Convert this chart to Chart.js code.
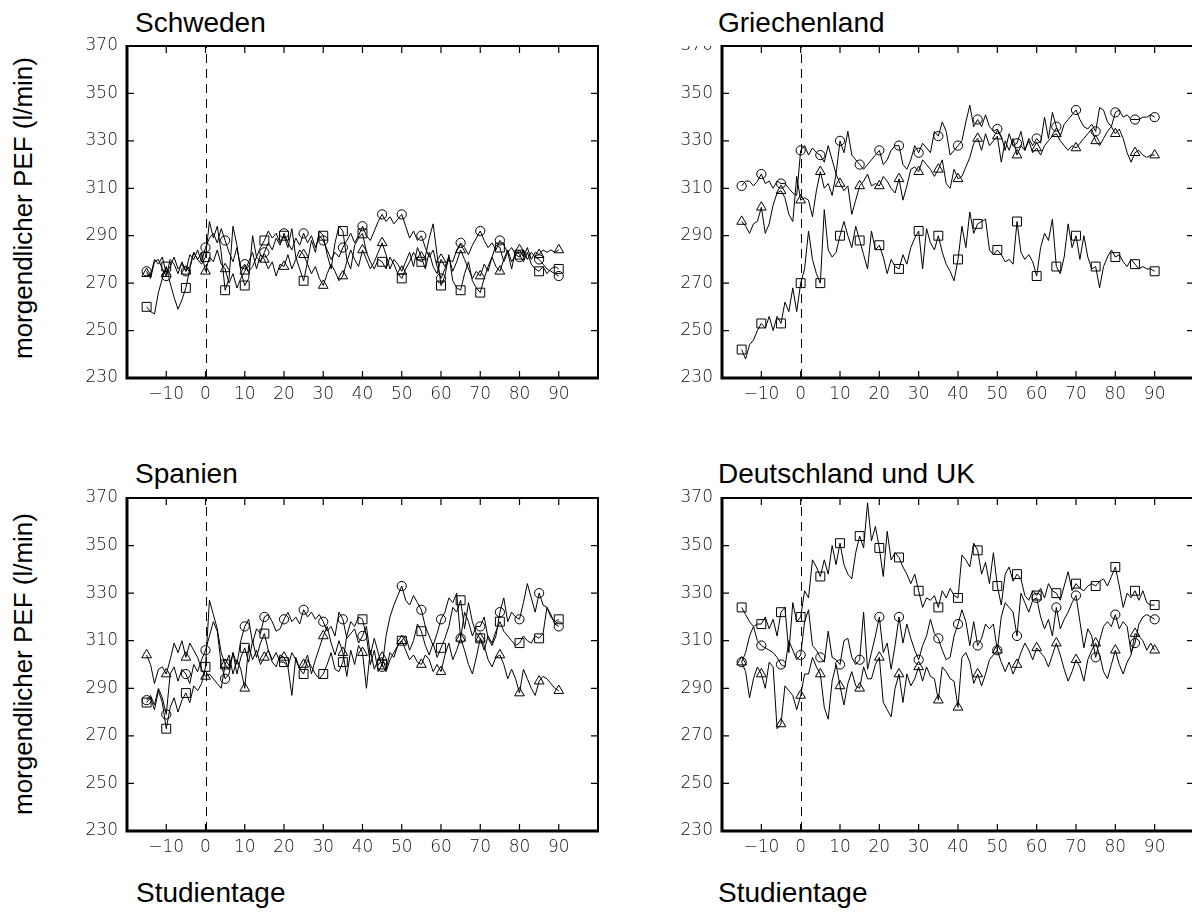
<!DOCTYPE html>
<html><head><meta charset="utf-8">
<script src="https://cdn.jsdelivr.net/npm/chart.js@4"></script>
<style>
html,body{margin:0;padding:0;background:#fff;}
body{width:1192px;height:913px;overflow:hidden;position:relative;font-family:"Liberation Sans",Arial,sans-serif;color:#000;}
canvas{position:absolute;}
.t{position:absolute;font-size:28px;line-height:28px;white-space:nowrap;}
.yl{position:absolute;font-size:26px;line-height:26px;height:26px;width:340px;text-align:center;white-space:nowrap;transform:rotate(-90deg);transform-origin:center center;}
.mask{position:absolute;background:#fff;z-index:5;}
</style></head><body>
<div class="t" style="left:135px;top:9px">Schweden</div>
<div class="t" style="left:718px;top:9px">Griechenland</div>
<div class="t" style="left:135px;top:460px">Spanien</div>
<div class="t" style="left:718px;top:460px">Deutschland und UK</div>
<div class="t" style="left:136px;top:879px">Studientage</div>
<div class="t" style="left:718px;top:879px">Studientage</div>
<div class="yl" style="left:-147px;top:195px">morgendlicher PEF (l/min)</div>
<div class="yl" style="left:-147px;top:651px">morgendlicher PEF (l/min)</div>
<canvas id="c1"></canvas><canvas id="c2"></canvas><canvas id="c3"></canvas><canvas id="c4"></canvas>
<div class="mask" style="left:672px;top:30px;width:44px;height:16px"></div>
<script>
const days = [-15,-14,-13,-12,-11,-10,-9,-8,-7,-6,-5,-4,-3,-2,-1,0,1,2,3,4,5,6,7,8,9,10,11,12,13,14,15,16,17,18,19,20,21,22,23,24,25,26,27,28,29,30,31,32,33,34,35,36,37,38,39,40,41,42,43,44,45,46,47,48,49,50,51,52,53,54,55,56,57,58,59,60,61,62,63,64,65,66,67,68,69,70,71,72,73,74,75,76,77,78,79,80,81,82,83,84,85,86,87,88,89,90];
const xTickVals = [-10,0,10,20,30,40,50,60,70,80,90];
const yTickVals = [230,250,270,290,310,330,350,370];
const dashedAt = 0;

// Schweden
const swKreis = [275,272,279,280,276, 273,280,278,274,279, 275,282,280,284,279, 285,289,291,287,293, 288,283,279,285,276, 278,275,277,281,279, 283,287,284,289,286, 291,287,284,289,286, 291,287,290,285,290, 288,284,280,283,281, 285,288,291,287,290, 294,290,288,292,296, 299,296,298,295,297, 299,294,289,292,288, 290,285,281,284,277, 272,276,280,279,284, 287,285,282,286,289, 292,288,285,287,284, 288,286,283,285,282, 281,284,280,283,281, 280,278,276,275,274, 273];
const swDreieck = [274,273,280,278,281, 274,277,281,276,278, 275,277,283,280,283, 275,281,279,284,278, 276,270,274,268,272, 275,279,283,276,282, 280,276,279,273,278, 277,282,276,280,284, 282,278,274,277,272, 269,274,278,275,271, 273,279,284,280,277, 284,280,276,279,283, 287,282,276,280,278, 275,279,283,277,285, 281,276,283,277,274, 280,277,281,275,279, 284,280,276,272,275, 273,278,275,281,277, 275,280,284,279,282, 284,281,285,280,283, 282,284,283,284,283, 284];
const swQuadrat = [260,258,257,266,272, 277,270,264,259,263, 268,276,283,280,278, 281,296,289,294,283, 267,272,294,286,275, 269,272,290,281,285, 288,292,289,291,287, 290,285,293,281,276, 271,279,288,283,292, 290,282,276,287,294, 292,280,276,286,289, 291,283,279,276,280, 279,276,281,278,274, 272,276,279,283,280, 279,281,289,295,282, 269,273,282,271,268, 267,274,279,271,268, 266,272,277,281,286, 285,279,283,276,284, 282,279,283,278,276, 275,277,274,276,277, 276];
// Griechenland
const grKreis = [311,313,313,311,313, 316,312,313,310,313, 312,312,310,308,307, 326,328,324,327,325, 324,321,328,322,316, 330,325,334,324,322, 320,318,320,322,324, 326,320,322,326,328, 328,320,318,322,328, 325,329,327,325,334, 332,338,334,324,326, 328,330,338,345,336, 339,336,341,336,334, 335,332,326,333,328, 329,334,326,331,328, 331,329,340,331,342, 336,332,337,339,341, 343,339,336,335,337, 334,344,343,338,336, 342,343,340,341,339, 339,339,340,340,341, 340];
const grDreieck = [296,294,291,295,296, 302,291,295,303,308, 309,306,299,296,315, 305,306,305,298,309, 317,310,312,307,316, 312,309,311,299,305, 311,313,316,311,312, 311,315,313,310,308, 314,305,311,318,319, 317,322,320,318,315, 318,322,312,310,318, 314,315,319,323,329, 331,326,333,328,330, 332,321,330,326,331, 324,328,326,330,325, 327,324,328,330,332, 333,330,328,326,328, 327,329,331,333,335, 330,328,331,334,336, 333,335,331,325,321, 325,326,324,323,324, 324];
const grQuadrat = [242,238,244,246,250, 253,251,256,250,256, 253,262,258,268,258, 270,276,292,280,274, 270,301,284,281,283, 290,296,290,285,294, 288,282,276,292,284, 286,281,274,280,277, 276,282,278,285,289, 292,276,293,287,284, 290,283,278,275,271, 280,294,285,300,291, 295,296,297,284,282, 284,282,279,280,278, 296,283,280,282,279, 273,285,291,288,297, 277,274,281,295,285, 290,280,290,281,276, 277,268,277,281,284, 281,282,279,277,280, 278,276,277,276,276, 275];
// Spanien
const esKreis = [285,287,283,290,286, 279,296,299,293,298, 296,292,300,297,302, 306,312,318,314,300, 294,296,305,300,310, 316,319,309,315,313, 320,321,318,314,315, 319,322,318,320,317, 323,320,322,319,321, 318,314,316,312,322, 319,311,313,315,309, 312,316,304,311,305, 299,312,320,325,329, 333,327,325,329,326, 323,316,312,308,313, 319,322,328,326,330, 311,322,318,312,316, 316,320,311,308,312, 322,328,318,322,320, 319,326,334,328,322, 330,325,324,321,317, 316];
const esDreieck = [304,300,292,298,299, 296,302,309,305,310, 303,309,306,303,298, 295,296,294,292,290, 300,304,296,302,298, 290,308,302,306,300, 303,306,301,299,304, 303,299,287,303,298, 300,304,296,302,307, 312,316,309,304,310, 305,295,306,300,308, 305,290,306,298,302, 303,298,305,303,308, 310,306,302,304,301, 300,304,302,297,300, 297,304,309,302,306, 311,306,300,296,303, 311,308,302,299,303, 304,300,294,298,294, 288,298,294,290,287, 293,295,294,292,290, 289];
const esQuadrat = [284,286,281,289,284, 273,282,286,280,285, 288,284,291,289,292, 299,327,321,315,305, 300,298,305,296,303, 307,301,310,303,309, 313,306,302,305,301, 301,299,305,302,298, 296,302,299,296,294, 296,300,305,298,297, 301,312,318,316,320, 319,312,300,306,297, 300,297,302,305,308, 310,312,306,310,317, 314,308,304,309,303, 307,311,316,324,322, 327,315,326,318,313, 311,306,312,309,314, 318,314,312,310,308, 309,312,310,309,312, 311,313,324,320,318, 319];
// Deutschland und UK
const deQuadrat = [324,321,318,316,317, 317,320,315,319,312, 322,324,305,326,318, 320,331,328,344,341, 337,344,338,350,342, 351,342,338,336,347, 354,349,368,352,358, 349,337,356,344,347, 345,341,338,334,338, 331,324,328,327,329, 324,331,328,332,329, 328,346,344,341,351, 348,338,343,334,347, 333,325,338,341,335, 338,336,329,327,331, 329,332,328,334,331, 330,327,333,339,331, 334,332,331,333,334, 333,335,336,333,337, 341,333,324,330,328, 331,327,331,326,325, 325];
const deKreis = [301,305,312,316,310, 308,307,306,305,303, 300,299,310,306,302, 304,318,323,308,306, 303,301,314,303,302, 300,310,311,303,300, 302,322,298,305,312, 320,305,309,298,308, 320,309,317,311,306, 302,308,312,319,313, 311,306,302,303,312, 317,323,318,308,318, 308,311,317,315,317, 306,320,326,324,322, 312,330,326,322,327, 328,320,315,319,312, 324,315,319,322,326, 329,318,307,315,312, 303,310,316,318,316, 321,315,318,316,305, 309,317,320,321,320, 319];
const deDreieck = [301,297,286,294,299, 296,290,301,299,273, 275,291,289,287,281, 287,296,296,303,299, 296,282,277,293,300, 291,283,292,297,291, 290,299,294,294,300, 303,284,281,278,290, 296,284,296,291,294, 299,293,299,295,294, 285,299,297,294,293, 282,303,305,301,292, 296,291,296,302,304, 306,301,297,301,296, 300,305,309,306,302, 307,305,303,299,304, 309,304,298,293,297, 302,299,293,302,306, 309,304,297,294,300, 306,300,296,301,304, 313,312,310,306,309, 306];

const markerEvery = 5;
const tickFont = {family:'"DejaVu Sans", sans-serif', size:17, weight:'200'};

const framePlugin = {
  id:'frame',
  beforeDatasetsDraw(chart){
    const {ctx, chartArea:{top,bottom}, scales:{x}} = chart;
    const px = Math.round(x.getPixelForValue(dashedAt)) + 0.5;
    ctx.save();
    ctx.strokeStyle='#000'; ctx.lineWidth=1; ctx.setLineDash([9,6]);
    ctx.beginPath(); ctx.moveTo(px,bottom); ctx.lineTo(px,top); ctx.stroke();
    ctx.restore();
  },
  afterDraw(chart){
    const {ctx, chartArea:{left,top,right,bottom}, scales:{x,y}} = chart;
    ctx.save();
    ctx.strokeStyle='#000';
    ctx.lineWidth=2;
    ctx.beginPath();
    ctx.moveTo(left,top); ctx.lineTo(right,top); ctx.lineTo(right,bottom);
    ctx.stroke();
    ctx.lineWidth=3;
    ctx.beginPath();
    ctx.moveTo(left,top-1); ctx.lineTo(left,bottom); ctx.lineTo(right+1,bottom);
    ctx.stroke();
    ctx.lineWidth=1.2;
    ctx.beginPath();
    xTickVals.forEach(v=>{
      const px = x.getPixelForValue(v);
      ctx.moveTo(px,bottom); ctx.lineTo(px,bottom-7);
      ctx.moveTo(px,top); ctx.lineTo(px,top+7);
    });
    yTickVals.forEach(v=>{
      const py = y.getPixelForValue(v);
      ctx.moveTo(left,py); ctx.lineTo(left+7,py);
      ctx.moveTo(right,py); ctx.lineTo(right-7,py);
    });
    ctx.stroke();
    ctx.restore();
  }
};

function ds(values, style, r){
  return {
    data: days.map((d,i)=>({x:d, y:values[i]})),
    borderColor:'#000', borderWidth:1, tension:0,
    pointStyle:style,
    pointRadius: c => (days[c.dataIndex] % markerEvery === 0 ? r : 0),
    pointHoverRadius:0,
    pointBorderColor:'#000', pointBorderWidth:1,
    pointBackgroundColor:'rgba(0,0,0,0)'
  };
}

function makePanel(id, L, T, R, B, series){
  const padL=100, padT=22, padR=12, padB=50;
  const cv = document.getElementById(id);
  cv.width = R-L+padL+padR; cv.height = B-T+padT+padB;
  cv.style.left = (L-padL)+'px'; cv.style.top = (T-padT)+'px';
  cv.style.width = cv.width+'px'; cv.style.height = cv.height+'px';
  new Chart(cv, {
    type:'line',
    data:{datasets:[
      ds(series[0],'circle',4.6),
      ds(series[1],'triangle',5.6),
      ds(series[2],'rect',6.3)
    ]},
    options:{
      responsive:false, animation:false, devicePixelRatio:1,
      layout:{padding:{left:0,top:padT,right:padR,bottom:0}},
      plugins:{legend:{display:false}, tooltip:{enabled:false}},
      events:[],
      scales:{
        x:{type:'linear', min:-20, max:100,
           afterBuildTicks:s=>{s.ticks = xTickVals.map(v=>({value:v}));},
           afterFit:s=>{s.height=padB;},
           grid:{display:false, drawTicks:false}, border:{display:false},
           ticks:{font:tickFont, color:'#111', padding:6, maxRotation:0, autoSkip:false,
                  callback:v=> v<0 ? '\u2212'+Math.abs(v) : String(v)}},
        y:{type:'linear', min:230, max:370,
           afterBuildTicks:s=>{s.ticks = yTickVals.map(v=>({value:v}));},
           afterFit:s=>{s.width=padL;},
           grid:{display:false, drawTicks:false}, border:{display:false},
           ticks:{font:tickFont, color:'#111', padding:9, autoSkip:false}}
      }
    },
    plugins:[framePlugin]
  });
}

makePanel('c1',127,46,598,378,[swKreis,swDreieck,swQuadrat]);
makePanel('c2',722,46,1194,378,[grKreis,grDreieck,grQuadrat]);
makePanel('c3',127,498,598,831,[esKreis,esDreieck,esQuadrat]);
makePanel('c4',722,498,1194,831,[deKreis,deDreieck,deQuadrat]);
</script>
</body></html>
